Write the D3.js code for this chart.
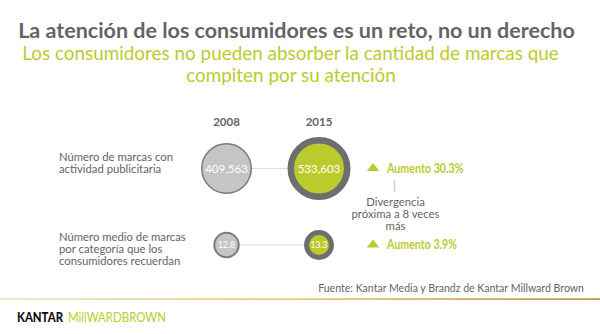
<!DOCTYPE html>
<html><head><meta charset="utf-8">
<script src="https://cdn.jsdelivr.net/npm/d3@7"></script>
<style>
html,body{margin:0;padding:0;background:#fff;}
svg{display:block;font-family:Lato,"Open Sans",sans-serif;}
</style></head>
<body>
<svg id="chart" width="600" height="334"></svg>
<script>
// ---- data ----
const title = "La atención de los consumidores es un reto, no un derecho";
const subtitle = ["Los consumidores no pueden absorber la cantidad de marcas que", "compiten por su atención"];
const years = ["2008", "2015"];
const rows = ["marcas", "recuerdo"];
const rowLabels = [["Número de marcas con", "actividad publicitaria"],
                   ["Número medio de marcas", "por categoría que los", "consumidores recuerdan"]];
const values2008 = [409563, 12.8];
const values2015 = [533603, 13.3];
const increases = [30.3, 3.9];
const divergence = ["Divergencia", "próxima a 8 veces", "más"];
const source = "Fuente: Kantar Media y Brandz de Kantar Millward Brown";

const GREEN = "#bccb2c", GRAY_TXT = "#646464";
const svg = d3.select("#chart");

function fit(sel, w) {
  const n = sel.node(); const fs = parseFloat(sel.attr("font-size"));
  const L = n.getComputedTextLength(); sel.attr("font-size", fs * w / L);
  return sel;
}

// titles
fit(svg.append("text").attr("x", 296.5).attr("y", 37.5).attr("text-anchor", "middle")
  .attr("font-size", 19).attr("font-weight", 700).attr("fill", GRAY_TXT).text(title), 557);
const s1 = svg.append("text").attr("x", 290.5).attr("y", 60).attr("text-anchor", "middle")
  .attr("font-size", 15.5).attr("fill", GREEN).text(subtitle[0]);
fit(s1, 537);
svg.append("text").attr("x", 291).attr("y", 81.5).attr("text-anchor", "middle")
  .attr("font-size", s1.attr("font-size")).attr("fill", GREEN).text(subtitle[1]);

// scales
const x = d3.scalePoint().domain(years).range([226.5, 319]);
const y = d3.scalePoint().domain(rows).range([168.5, 245]);
const rScales = [d3.scaleSqrt().domain([0, values2008[0]]).range([0, 24.75]),
                 d3.scaleSqrt().domain([0, values2008[1]]).range([0, 12.2])];
const fmt = [d3.format(","), d3.format(".1f")];
const valSize = [11.5, 8.5];
const ringW = [6.5, 5];
const labelTop = [160.5, 241];
const incWidth = [76.6, 70];

// year headers
svg.selectAll(".yr").data(years).join("text")
  .attr("x", d => x(d)).attr("y", 125.5).attr("text-anchor", "middle")
  .attr("font-size", 11.5).attr("font-weight", 700).attr("fill", GRAY_TXT).text(d => d);

rows.forEach((row, i) => {
  const cy = y(row);
  const r0 = rScales[i](values2008[i]), r1 = rScales[i](values2015[i]);
  svg.append("line").attr("x1", x(years[0]) + r0 + 0.75).attr("x2", x(years[1]) - r1 - ringW[i] / 2)
    .attr("y1", cy).attr("y2", cy).attr("stroke", "#dcdcdc").attr("stroke-width", 1);
  svg.append("circle").attr("cx", x(years[0])).attr("cy", cy).attr("r", r0)
    .attr("fill", "#c5c5c5").attr("stroke", "#7b7b7b").attr("stroke-width", i === 0 ? 1.5 : 2);
  svg.append("circle").attr("cx", x(years[1])).attr("cy", cy).attr("r", r1)
    .attr("fill", GREEN).attr("stroke", "#6e6e6e").attr("stroke-width", ringW[i]);
  [values2008[i], values2015[i]].forEach((v, j) => {
    svg.append("text").attr("x", x(years[j])).attr("y", cy).attr("dy", "0.35em")
      .attr("text-anchor", "middle").attr("font-size", valSize[i]).attr("fill", "#fff").text(fmt[i](v));
  });
  const lbl = svg.append("text").attr("font-size", 11.3).attr("fill", GRAY_TXT);
  rowLabels[i].forEach((t, k) => {
    lbl.append("tspan").attr("x", 59).attr("y", labelTop[i] + k * 12.2).text(t);
  });
  const tx = 373;
  svg.append("path").attr("d", `M${tx - 6.3},${cy + 2.5}L${tx + 6.3},${cy + 2.5}L${tx},${cy - 5.5}Z`).attr("fill", GREEN);
  svg.append("text").attr("x", 387).attr("y", cy).attr("dy", "0.35em").attr("font-size", 12.3)
    .attr("font-weight", 700).attr("fill", GREEN).text("Aumento " + increases[i] + "%")
    .attr("textLength", incWidth[i]).attr("lengthAdjust", "spacingAndGlyphs");
});

// divergence
svg.append("line").attr("x1", 394.5).attr("x2", 394.5).attr("y1", 180).attr("y2", 192)
  .attr("stroke", "#cfcfcf").attr("stroke-width", 1.5);
const dv = svg.append("text").attr("text-anchor", "middle").attr("font-size", 11.3).attr("fill", GRAY_TXT);
divergence.forEach((t, k) => dv.append("tspan").attr("x", 395.5).attr("y", 205.5 + k * 12.2).text(t));

// source
fit(svg.append("text").attr("x", 584).attr("y", 292).attr("text-anchor", "end")
  .attr("font-size", 10.5).attr("fill", GRAY_TXT).text(source), 266);

// gold rule
const defs = svg.append("defs");
const g = defs.append("linearGradient").attr("id", "gold").attr("x1", "0").attr("x2", "1");
g.append("stop").attr("offset", "0").attr("stop-color", "#efe3c2");
g.append("stop").attr("offset", "0.55").attr("stop-color", "#e0c15e");
g.append("stop").attr("offset", "1").attr("stop-color", "#b38d3d");
svg.append("rect").attr("x", 0).attr("y", 298.3).attr("width", 600).attr("height", 1.6).attr("fill", "url(#gold)");

// logo
svg.append("text").attr("x", 17).attr("y", 321.7).attr("font-size", 12.5).attr("font-weight", 900)
  .attr("fill", "#111").text("KANTAR").attr("textLength", 46).attr("lengthAdjust", "spacingAndGlyphs");
svg.append("text").attr("x", 68).attr("y", 321.7).attr("font-size", 12.5).attr("font-weight", 400)
  .attr("fill", GREEN).text("MillWARDBROWN").attr("textLength", 98).attr("lengthAdjust", "spacingAndGlyphs");
</script>
</body></html>
